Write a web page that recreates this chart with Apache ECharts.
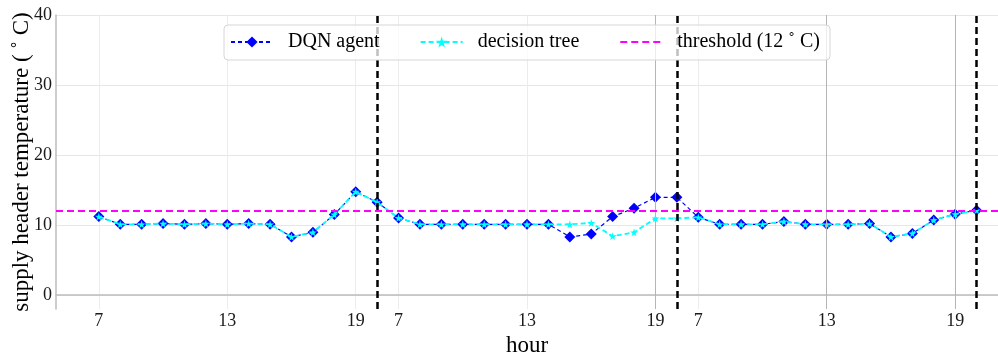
<!DOCTYPE html>
<html><head><meta charset="utf-8">
<script src="https://cdn.jsdelivr.net/npm/echarts@6/dist/echarts.min.js"></script>
<style>html,body{margin:0;padding:0;background:#fff}#c{width:998px;height:355px}</style>
</head><body><div id="c"></div>
<script>
// ---- data ----
const hours = [7, 8, 9, 10, 11, 12, 13, 14, 15, 16, 17, 18, 19, 20];
const days = [1, 2, 3];
const tickHours = [7, 13, 19];
const yTicks = [0, 10, 20, 30, 40];
const thresholdValue = 12;

const dqnDay1 = [11.2, 10.1, 10.1, 10.2, 10.1, 10.2, 10.1, 10.2, 10.1, 8.3, 8.95, 11.5, 14.75, 13.25];
const dqnDay2 = [11.0, 10.1, 10.1, 10.1, 10.1, 10.1, 10.1, 10.1, 8.3, 8.7, 11.2, 12.4, 13.95, 13.95];
const dqnDay3 = [11.1, 10.1, 10.1, 10.1, 10.5, 10.1, 10.1, 10.1, 10.2, 8.3, 8.8, 10.7, 11.55, 12.1];

const treeDay1 = [11.2, 10.1, 10.1, 10.2, 10.1, 10.2, 10.1, 10.2, 10.1, 8.3, 8.95, 11.5, 14.75, 13.25];
const treeDay2 = [11.0, 10.1, 10.1, 10.1, 10.1, 10.1, 10.1, 10.1, 10.1, 10.3, 8.4, 8.95, 10.95, 10.95];
const treeDay3 = [11.1, 10.1, 10.1, 10.1, 10.5, 10.1, 10.1, 10.1, 10.2, 8.3, 8.8, 10.7, 11.55, 12.1];

const darkGridAt = ['2-19', '3-13', '3-19'];
const dayEndAt = ['1-20', '2-20', '3-20'];

// ---- build ----
const dataCats = [];
days.forEach(d => hours.forEach(h => dataCats.push(d + '-' + h)));
const categories = ['pad-a', 'pad-b'].concat(dataCats, ['pad-c']);
const dqn = [].concat(dqnDay1, dqnDay2, dqnDay3);
const tree = [].concat(treeDay1, treeDay2, treeDay3);
const isTick = (v) => { const p = String(v).split('-'); return p[0] !== 'pad' && tickHours.indexOf(+p[1]) >= 0; };

const FONT = 'Liberation Serif';
const chart = echarts.init(document.getElementById('c'), null, {renderer: 'canvas'});
chart.setOption({
  animation: false,
  backgroundColor: '#fff',
  textStyle: {fontFamily: FONT},
  grid: {left: 56, right: 0, top: 15, bottom: 46, containLabel: false, outerBoundsMode: 'none'},
  legend: {
    top: 25, left: 224, z: 20,
    padding: [7, 10, 8, 6],
    backgroundColor: 'rgba(255,255,255,0.75)',
    borderColor: '#d6d6d6', borderWidth: 1, borderRadius: 4,
    itemWidth: 42, itemHeight: 14, itemGap: 40,
    textStyle: {fontFamily: FONT, fontSize: 20, color: '#000', padding: [0, 0, 0, 10]},
    data: ['DQN agent', 'decision tree', {name: 'threshold (12 ˚ C)', itemStyle: {opacity: 0}}]
  },
  xAxis: {
    type: 'category', data: categories, boundaryGap: false,
    name: 'hour', nameLocation: 'middle', nameGap: 22,
    nameTextStyle: {fontFamily: FONT, fontSize: 23, color: '#000'},
    axisLine: {lineStyle: {color: '#bdbdbd', width: 1.5}},
    axisTick: {show: false},
    axisLabel: {interval: (i, v) => isTick(v), formatter: v => String(v).split('-')[1],
      fontFamily: FONT, fontSize: 18, color: '#1a1a1a', margin: 3},
    splitLine: {show: true, interval: (i, v) => isTick(v), lineStyle: {color: '#ececec', width: 1}}
  },
  yAxis: {
    type: 'value', min: -2, max: 40,
    name: 'supply header temperature ( ˚ C)', nameLocation: 'middle', nameGap: 23,
    nameMoveOverlap: false,
    nameTextStyle: {fontFamily: FONT, fontSize: 23, color: '#000'},
    axisLine: {show: true, lineStyle: {color: '#bdbdbd', width: 1.5}},
    axisTick: {show: false, customValues: yTicks},
    axisLabel: {customValues: yTicks, fontFamily: FONT, fontSize: 18, color: '#1a1a1a', margin: 4},
    splitLine: {show: true, lineStyle: {color: '#e6e6e6', width: 1}}
  },
  series: [
    {
      name: 'DQN agent', type: 'line',
      data: dataCats.map((c, i) => [c, dqn[i]]),
      symbol: 'diamond', symbolSize: 11,
      itemStyle: {color: '#0000ff'},
      lineStyle: {color: '#0000ff', width: 1.2, type: [4, 3]},
      z: 3,
      markLine: {
        silent: true, symbol: 'none', label: {show: false}, animation: false,
        lineStyle: {color: '#b5b5b5', width: 1, type: 'solid'},
        data: darkGridAt.map(c => ({xAxis: c}))
      }
    },
    {
      name: 'decision tree', type: 'line',
      data: dataCats.map((c, i) => [c, tree[i]]),
      symbol: 'path://M50,0 L61,35 L98,35 L68,57 L79,91 L50,70 L21,91 L32,57 L2,35 L39,35 Z',
      symbolSize: 8,
      itemStyle: {color: '#00ffff'},
      lineStyle: {color: '#00ffff', width: 1.8, type: [5, 3]},
      z: 4
    },
    {
      name: 'threshold (12 ˚ C)', type: 'line', data: [],
      symbol: 'none',
      itemStyle: {color: '#ff00ff'},
      lineStyle: {color: '#ff00ff', width: 2, type: [7, 4]},
      z: 2,
      markLine: {
        silent: true, symbol: 'none', label: {show: false}, animation: false,
        lineStyle: {color: '#ff00ff', width: 2, type: [7, 4]},
        data: [{yAxis: thresholdValue}]
      }
    },
    {
      name: 'day end', type: 'line', data: [], z: 5,
      markLine: {
        silent: true, symbol: 'none', label: {show: false}, animation: false,
        lineStyle: {color: '#000', width: 2.5, type: [7, 4]},
        data: dayEndAt.map(c => ({xAxis: c}))
      }
    }
  ]
});
</script></body></html>
